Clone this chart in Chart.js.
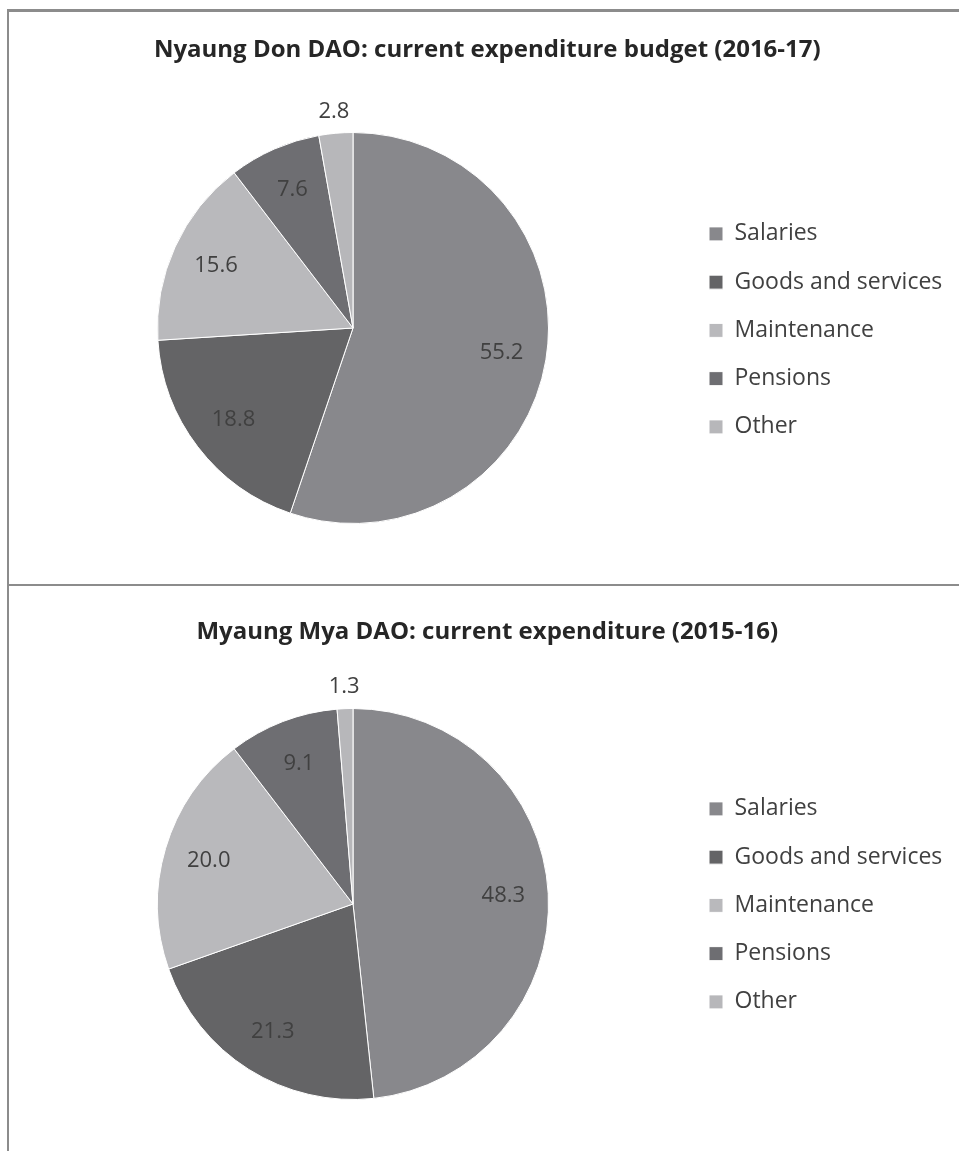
<!DOCTYPE html>
<html>
<head>
<meta charset="utf-8">
<script src="https://cdn.jsdelivr.net/npm/chart.js@4/dist/chart.umd.min.js"></script>
<style>
  body { margin: 0; background: #fff; width: 959px; height: 1151px; position: relative; overflow: hidden; }
  .line { position: absolute; background: #8c8c8c; }
  .panel { position: absolute; left: 10px; }
  canvas { display: block; }
</style>
</head>
<body>
<div class="line" style="left:7px; top:9px; width:952px; height:3px;"></div>
<div class="line" style="left:7px; top:9px; width:2px; height:1142px;"></div>
<div class="line" style="left:7px; top:584px; width:952px; height:2px;"></div>

<div class="panel" style="top:12px;"><canvas id="chart1" width="949" height="572"></canvas></div>
<div class="panel" style="top:587px;"><canvas id="chart2" width="949" height="564"></canvas></div>

<script>
// Two DAO current expenditure pies (percent shares)
const categories = ['Salaries', 'Goods and services', 'Maintenance', 'Pensions', 'Other'];
const nyaungDonValues = [55.2, 18.8, 15.6, 7.6, 2.8];
const myaungMyaValues = [48.3, 21.3, 20.0, 9.1, 1.3];
const sliceColors = ['#88888c', '#646466', '#b9b9bc', '#6e6e72', '#b7b7ba'];

const textColor = '#404040';
const baseFont = "'Open Sans', 'DejaVu Sans', sans-serif";
const labelSize = 22;
const legendSize = 23;
const legendPad = 25.25;

// draws value labels on the slices (small slices go outside)
const sliceLabels = {
  id: 'sliceLabels',
  afterDatasetsDraw(chart) {
    const ctx = chart.ctx;
    const ds = chart.data.datasets[0];
    const meta = chart.getDatasetMeta(0);
    ctx.save();
    ctx.font = labelSize + 'px ' + baseFont;
    ctx.fillStyle = textColor;
    ctx.textAlign = 'center';
    ctx.textBaseline = 'middle';
    meta.data.forEach((arc, i) => {
      const v = ds.data[i];
      const mid = (arc.startAngle + arc.endAngle) / 2;
      const r = v < 5 ? arc.outerRadius + 22 : arc.outerRadius * 0.77;
      ctx.fillText(v.toFixed(1), arc.x + Math.cos(mid) * r, arc.y + Math.sin(mid) * r);
    });
    ctx.restore();
  }
};

function makePie(id, title, values, titleTop, titleBottom, padBottom, legendShift) {
  const chart = new Chart(document.getElementById(id), {
    type: 'pie',
    data: {
      labels: categories,
      datasets: [{
        data: values,
        backgroundColor: sliceColors,
        borderColor: '#ffffff',
        borderWidth: 1
      }]
    },
    options: {
      responsive: false,
      animation: false,
      layout: { padding: { left: 13, right: 0, top: 0, bottom: padBottom } },
      plugins: {
        title: {
          display: true,
          text: title,
          color: '#262626',
          font: { family: baseFont, size: 24, weight: 'bold', lineHeight: 1.2 },
          padding: { top: titleTop, bottom: titleBottom }
        },
        legend: {
          position: 'right',
          // empty title just pushes the items down
          title: {
            display: true,
            text: '',
            font: { size: 10, lineHeight: 1 },
            padding: { top: legendShift, bottom: 0 }
          },
          labels: {
            color: textColor,
            font: { family: baseFont, size: legendSize },
            boxWidth: 14,
            boxHeight: 14,
            padding: legendPad
          }
        },
        tooltip: { enabled: false }
      }
    },
    plugins: [sliceLabels]
  });
  // place the legend so its boxes start at x=709 of the page
  const legendLeft = 709 - 10 - legendPad;
  chart.options.layout.padding.right = 949 - legendLeft - chart.legend.width;
  chart.options.layout.padding.left = 686 - legendLeft;
  chart.update();
  return chart;
}

makePie('chart1', 'Nyaung Don DAO: current expenditure budget (2016-17)', nyaungDonValues, 23.6, 67.6, 60, 114.75);
makePie('chart2', 'Myaung Mya DAO: current expenditure (2015-16)', myaungMyaValues, 30.6, 61.6, 51, 113.75);
</script>
</body>
</html>
